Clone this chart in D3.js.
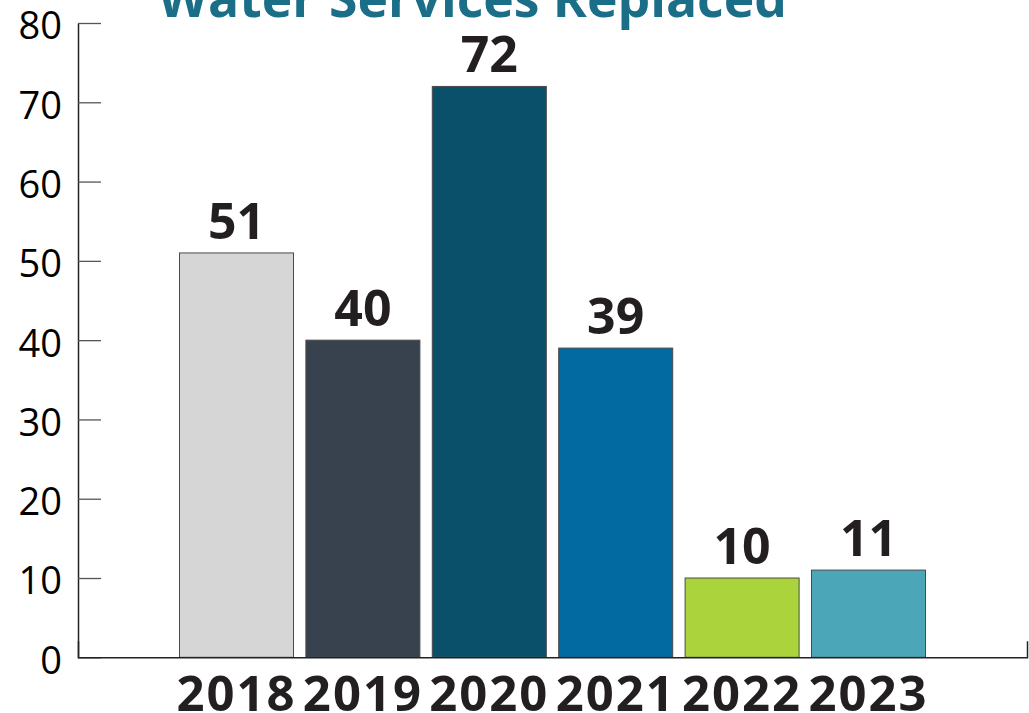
<!DOCTYPE html>
<html>
<head>
<meta charset="utf-8">
<script src="https://cdn.jsdelivr.net/npm/d3@7"></script>
<style>
  html, body { margin: 0; padding: 0; background: #fff; }
  svg { display: block; }
</style>
</head>
<body>
<svg id="chart" width="1029" height="713"></svg>
<script>
const title = "Water Services Replaced";
const years = ["2018", "2019", "2020", "2021", "2022", "2023"];
const values = [51, 40, 72, 39, 10, 11];
const barColors = ["#d6d6d6", "#38424f", "#0a506b", "#026aa0", "#abd33c", "#4ba6b7"];
const yTicks = [0, 10, 20, 30, 40, 50, 60, 70, 80];

(function () {
const svg = d3.select("#chart");
const mLeft = 78, mRight = 1027, mTop = 23, mBottom = 657.3;

const x = d3.scaleBand().domain(years).range([mLeft, mRight]).paddingInner(0.098).paddingOuter(0.803);
const y = d3.scaleLinear().domain([0, 80]).range([mBottom, mTop]);

const textColor = "#231f20";
const font = "'Open Sans', 'DejaVu Sans', sans-serif";

// Bars
svg.append("g").selectAll("rect").data(years).join("rect")
  .attr("x", d => x(d))
  .attr("y", (d, i) => y(values[i]))
  .attr("width", x.bandwidth())
  .attr("height", (d, i) => y(0) - y(values[i]))
  .attr("fill", (d, i) => barColors[i])
  .attr("stroke", "#4a4a4a")
  .attr("stroke-width", 1);

// Y axis
const yAxis = svg.append("g").attr("transform", `translate(${mLeft},0)`)
  .call(d3.axisLeft(y).tickValues(yTicks).tickSizeInner(-23).tickSizeOuter(0).tickPadding(16));
yAxis.select(".domain").attr("stroke", "#222").attr("stroke-width", 1.5);
yAxis.selectAll(".tick line").attr("stroke", "#555").attr("stroke-width", 1.3);
yAxis.selectAll(".tick text")
  .attr("font-family", font).attr("font-size", 38).attr("fill", "#000")
  .attr("dy", "0.42em");

// X axis
const xAxis = svg.append("g").attr("transform", `translate(0,${mBottom})`)
  .call(d3.axisBottom(x).tickSizeInner(0).tickSizeOuter(-16).tickPadding(19));
xAxis.select(".domain").attr("stroke", "#222").attr("stroke-width", 1.5);
xAxis.selectAll(".tick line").remove();
xAxis.selectAll(".tick text")
  .attr("font-family", font).attr("font-size", 49).attr("font-weight", 700)
  .attr("letter-spacing", "2px")
  .attr("fill", textColor);

// Value labels
svg.append("g").selectAll("text").data(years).join("text")
  .attr("x", d => x(d) + x.bandwidth() / 2)
  .attr("y", (d, i) => y(values[i]) - 14)
  .attr("text-anchor", "middle")
  .attr("font-family", font).attr("font-size", 50).attr("font-weight", 700)
  .attr("fill", textColor)
  .text((d, i) => values[i]);

// Title
const t = svg.append("text")
  .attr("x", 472.5).attr("y", 17)
  .attr("text-anchor", "middle")
  .attr("font-family", font).attr("font-size", 48).attr("font-weight", 700)
  .attr("fill", "#1a6e88")
  .text(title);
const tw = t.node().getComputedTextLength();
t.attr("font-size", 48 * 629 / tw);
})();
</script>
</body>
</html>
